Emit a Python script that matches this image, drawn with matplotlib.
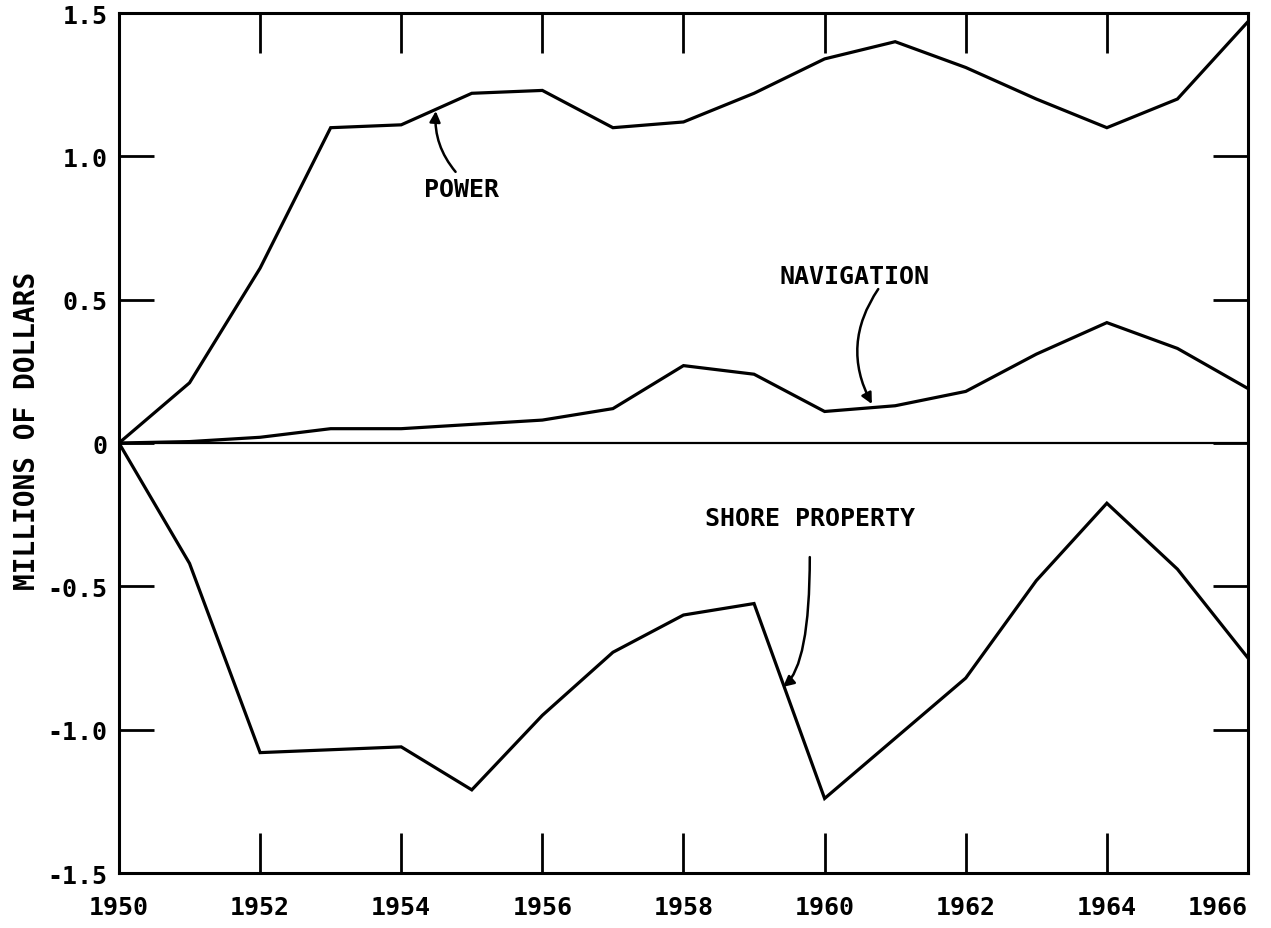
import numpy as np
import matplotlib.pyplot as plt

plt.rcParams['font.family'] = ['DejaVu Sans Mono', 'DejaVu Sans']
plt.rcParams['font.weight'] = 'bold'
plt.rcParams['axes.labelweight'] = 'bold'

years = list(range(1950, 1967))
power = [0.0, 0.21, 0.61, 1.10, 1.11, 1.22, 1.23, 1.10, 1.12, 1.22,
         1.34, 1.40, 1.31, 1.20, 1.10, 1.20, 1.47]
navigation = [0.0, 0.005, 0.02, 0.05, 0.05, 0.065, 0.08, 0.12, 0.27, 0.24,
              0.11, 0.13, 0.18, 0.31, 0.42, 0.33, 0.19]
shore = [0.0, -0.42, -1.08, -1.07, -1.06, -1.21, -0.95, -0.73, -0.60, -0.56,
         -1.24, -1.03, -0.82, -0.48, -0.21, -0.44, -0.75]

xticks = list(range(1950, 1967, 2))
yticks = [-1.5, -1.0, -0.5, 0, 0.5, 1.0, 1.5]
ylabels = ['-1.5', '-1.0', '-0.5', '0', '0.5', '1.0', '1.5']

fig = plt.figure(figsize=(12.71, 9.29), dpi=100)
ax = fig.add_axes([0.0936, 0.0592, 0.8883, 0.9257])

for s in [power, navigation, shore]:
    ax.plot(years, s, color='black', lw=2.3, solid_joinstyle='miter')
ax.axhline(0, color='black', lw=1.6)

ax.set_xlim(1950, 1966)
ax.set_ylim(-1.5, 1.5)
ax.set_xticks(xticks)
ax.set_xticklabels([str(y) for y in xticks])
ax.get_xticklabels()[-1].set_ha('right')
ax.set_yticks(yticks)
ax.set_yticklabels(ylabels)
ax.tick_params(axis='x', direction='in', length=29, width=2, top=True,
               labelsize=18, pad=16)
ax.tick_params(axis='y', direction='in', length=25, width=2, right=True,
               labelsize=18, pad=8)
for sp in ax.spines.values():
    sp.set_linewidth(2.2)
ax.set_ylabel('MILLIONS OF DOLLARS', fontsize=20)
ax.yaxis.set_label_coords(-0.069, 0.515)

# labels
ax.text(1954.86, 0.886, 'POWER', fontsize=18, ha='center', va='center')
ax.text(1960.43, 0.582, 'NAVIGATION', fontsize=18, ha='center', va='center')
ax.text(1959.8, -0.262, 'SHORE PROPERTY', fontsize=18, ha='center', va='center')

# curved pointer arrows
arrow = dict(arrowstyle='-|>', color='black', lw=1.8, mutation_scale=16,
             shrinkA=0, shrinkB=0)
ax.annotate('', xy=(1954.49, 1.158), xytext=(1954.77, 0.946),
            arrowprops=dict(arrow, connectionstyle='arc3,rad=-0.2'))
ax.annotate('', xy=(1960.67, 0.136), xytext=(1960.76, 0.537),
            arrowprops=dict(arrow, connectionstyle='arc3,rad=0.3'))
ax.annotate('', xy=(1959.41, -0.851), xytext=(1959.79, -0.398),
            arrowprops=dict(arrow, connectionstyle='angle3,angleA=90,angleB=40'))

fig.savefig('out.png', dpi=100)
